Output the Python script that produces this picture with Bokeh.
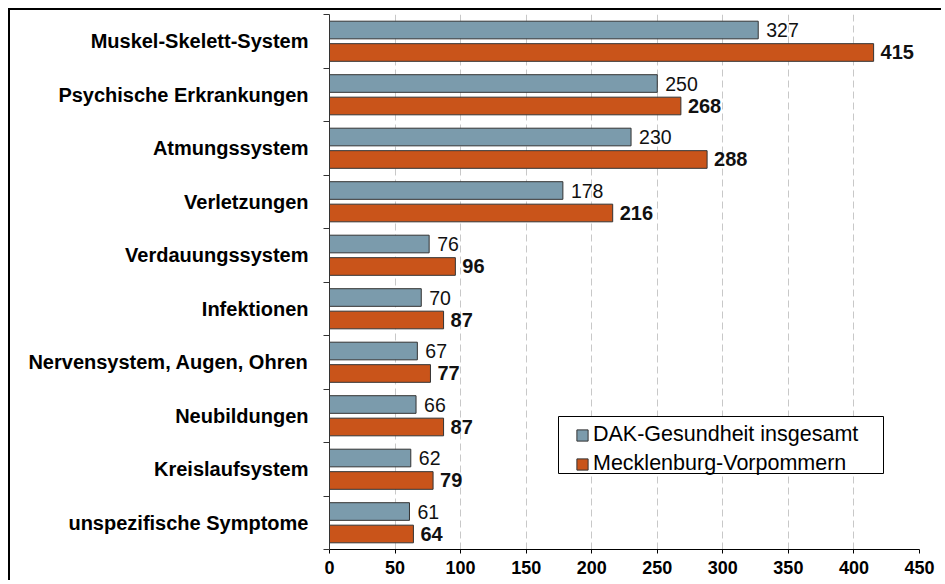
from bokeh.plotting import figure
from bokeh.models import ColumnDataSource, Range1d, FixedTicker, Legend, LegendItem, BoxAnnotation
from bokeh.core.properties import value
from bokeh.embed import file_html
from bokeh.resources import INLINE

categories = ["Muskel-Skelett-System", "Psychische Erkrankungen", "Atmungssystem",
              "Verletzungen", "Verdauungssystem", "Infektionen",
              "Nervensystem, Augen, Ohren", "Neubildungen", "Kreislaufsystem",
              "unspezifische Symptome"]
dak_values = [327, 250, 230, 178, 76, 70, 67, 66, 62, 61]
mv_values = [415, 268, 288, 216, 96, 87, 77, 87, 79, 64]
series_names = ["DAK-Gesundheit insgesamt", "Mecklenburg-Vorpommern"]
x_ticks = [0, 50, 100, 150, 200, 250, 300, 350, 400, 450]

n = len(categories)
pos = [n - 1 - i for i in range(n)]
src = ColumnDataSource(dict(
    pos=pos,
    y_dak=[p_ + 0.21 for p_ in pos],
    y_mv=[p_ - 0.21 for p_ in pos],
    dak=dak_values, mv=mv_values,
    dak_txt=[str(v) for v in dak_values],
    mv_txt=[str(v) for v in mv_values],
))

FONT = "Liberation Sans"
BLUE = "#7B9BAC"
ORANGE = "#C9541A"

p = figure(width=933, height=572, output_backend="svg", toolbar_location=None,
           x_range=Range1d(0, 450), y_range=Range1d(-0.5, n - 0.5),
           min_border_left=319, min_border_right=24, min_border_top=4, min_border_bottom=33)
p.styles = {"margin-left": "8px", "margin-top": "8px",
            "border-left": "2px solid black", "border-top": "2px solid black"}
p.outline_line_color = None
p.background_fill_color = "white"

r1 = p.hbar(y="y_dak", right="dak", left=0, height=0.33, source=src,
            fill_color=BLUE, line_color="#333333", line_width=1)
r2 = p.hbar(y="y_mv", right="mv", left=0, height=0.33, source=src,
            fill_color=ORANGE, line_color="#333333", line_width=1)

p.text(x="dak", y="y_dak", text="dak_txt", source=src, x_offset=8,
       text_baseline="middle", text_align="left", text_font=value(FONT),
       text_font_size="19.5px", text_color="#111111")
p.text(x="mv", y="y_mv", text="mv_txt", source=src, x_offset=7,
       text_baseline="middle", text_align="left", text_font=value(FONT),
       text_font_size="20px", text_font_style="bold", text_color="#111111")

# x axis
p.xaxis.ticker = FixedTicker(ticks=x_ticks)
p.xaxis.major_label_text_font = FONT
p.xaxis.major_label_text_font_style = "bold"
p.xaxis.major_label_text_font_size = "18px"
p.xaxis.major_label_text_color = "black"
p.xaxis.major_tick_out = 4
p.xaxis.major_tick_in = 0
p.xaxis.minor_tick_line_color = None
p.xaxis.axis_line_color = "black"
p.xaxis.major_tick_line_color = "black"
p.xaxis.major_label_standoff = 7

# y axis
p.yaxis.ticker = FixedTicker(ticks=pos, minor_ticks=[i - 0.5 for i in range(n + 1)])
p.yaxis.major_label_overrides = {pp: c for pp, c in zip(pos, categories)}
p.yaxis.major_label_text_font = FONT
p.yaxis.major_label_text_font_style = "bold"
p.yaxis.major_label_text_font_size = "20px"
p.yaxis.major_label_text_color = "black"
p.yaxis.major_tick_line_color = None
p.yaxis.major_tick_out = 0
p.yaxis.major_tick_in = 0
p.yaxis.minor_tick_out = 6
p.yaxis.minor_tick_in = 0
p.yaxis.minor_tick_line_color = "#333333"
p.yaxis.axis_line_color = "#333333"
p.yaxis.major_label_standoff = 15

p.xgrid.grid_line_color = "#C8C8C8"
p.xgrid.grid_line_dash = "7 4"
p.ygrid.grid_line_color = None

# legend frame (screen units relative to the plot frame)
box = BoxAnnotation(left=229, right=554, bottom=76, top=133,
                    left_units="screen", right_units="screen",
                    bottom_units="screen", top_units="screen",
                    fill_color="white", fill_alpha=1,
                    line_color="black", line_width=1, line_alpha=1)
p.add_layout(box)

legend = Legend(items=[LegendItem(label=series_names[0], renderers=[r1]),
                       LegendItem(label=series_names[1], renderers=[r2])],
                location=(246, 72))
legend.label_text_font = FONT
legend.label_text_font_size = "21.5px"
legend.label_text_color = "black"
legend.border_line_color = None
legend.background_fill_alpha = 0
legend.glyph_width = 14
legend.glyph_height = 14
legend.label_standoff = 4
legend.spacing = 2
legend.padding = 4
legend.margin = 0
legend.label_height = 27
p.add_layout(legend, "center")

open("out.html", "w").write(file_html(p, INLINE))
